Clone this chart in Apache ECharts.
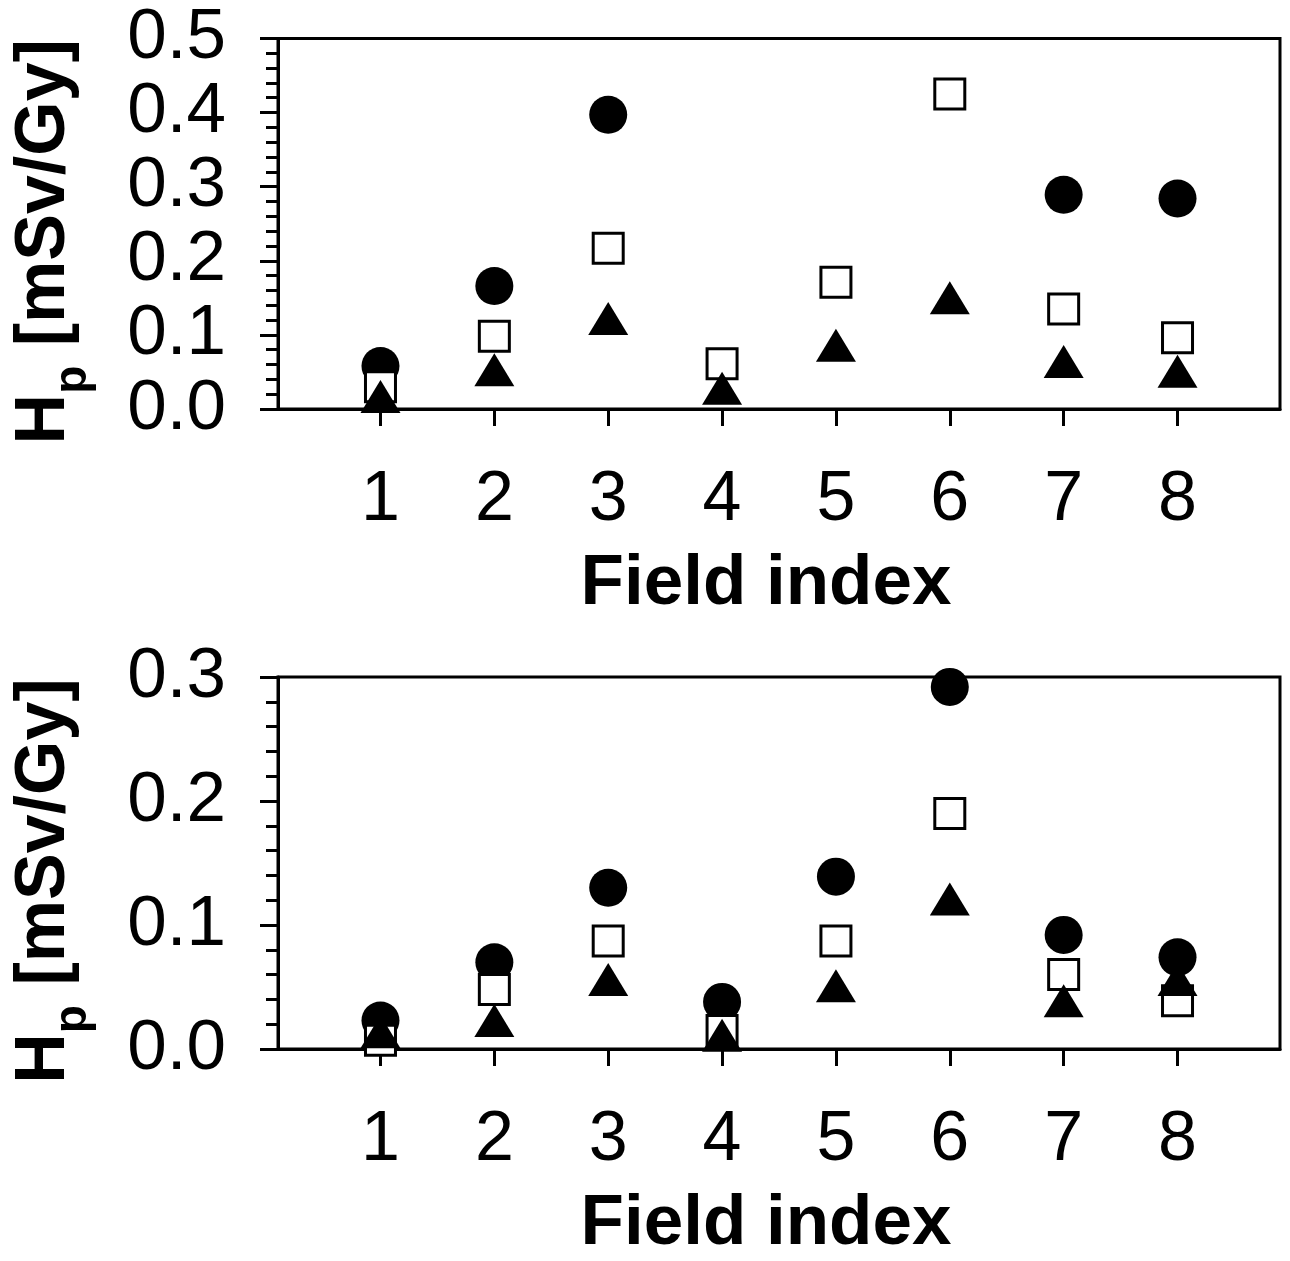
<!DOCTYPE html>
<html>
<head>
<meta charset="utf-8">
<title>Hp vs field index</title>
<script src="https://cdn.jsdelivr.net/npm/echarts@6/dist/echarts.min.js"></script>
<style>
  html, body { margin: 0; padding: 0; background: #fff; }
  #chart { width: 1290px; height: 1261px; }
</style>
</head>
<body>
<div id="chart"></div>
<script>
// field index (x) for both panels
const fields = [1, 2, 3, 4, 5, 6, 7, 8]

// top panel values [mSv/Gy]
const topCircle = [0.058, 0.166, 0.397, null, null, null, 0.289, 0.284]
const topSquare = [0.030, 0.098, 0.217, 0.061, 0.171, 0.425, 0.135, 0.096]
const topTriangle = [0.017, 0.053, 0.122, 0.028, 0.086, 0.150, 0.064, 0.051]

// bottom panel values [mSv/Gy]
const botCircle = [0.023, 0.070, 0.130, 0.038, 0.139, 0.292, 0.092, 0.074]
const botSquare = [0.007, 0.048, 0.087, 0.015, 0.087, 0.190, 0.060, 0.039]
const botTriangle = [0.014, 0.023, 0.056, 0.011, 0.051, 0.121, 0.039, 0.056]

const topMax = 0.5
const botMax = 0.3

const FONT = 'Liberation Sans, Arial, sans-serif'

function pairs(ys) {
  return fields.map((x, i) => [x, ys[i]]).filter(p => p[1] !== null)
}

function xAxisFor(gridIndex) {
  return {
    gridIndex,
    type: 'value',
    min: 0.1,
    max: 8.9,
    name: 'Field index',
    nameLocation: 'middle',
    nameGap: 140,
    nameTextStyle: { fontFamily: FONT, fontSize: 71, fontWeight: 'bold', color: '#000', padding: [0, 26, 0, 0] },
    axisLine: { show: true, lineStyle: { color: '#000', width: 3 } },
    axisTick: { show: true, customValues: fields, length: 17, lineStyle: { color: '#000', width: 3 } },
    axisLabel: { customValues: fields, margin: 57, fontFamily: FONT, fontSize: 70, color: '#000' },
    splitLine: { show: false }
  }
}

function yAxisFor(gridIndex, max) {
  return {
    gridIndex,
    type: 'value',
    min: 0,
    max: max,
    interval: 0.1,
    // Hp with subscript p, trailing pad pushes the text a bit toward the H end
    name: '{b|H}{s|p}{b| [mSv/Gy]}{e|}',
    nameLocation: 'middle',
    nameGap: 198,
    nameTextStyle: {
      rich: {
        b: { fontFamily: FONT, fontSize: 70, fontWeight: 'bold', color: '#000', lineHeight: 70, verticalAlign: 'top' },
        s: { fontFamily: FONT, fontSize: 46, fontWeight: 'bold', color: '#000', lineHeight: 46, verticalAlign: 'top', padding: [40, 0, 0, 0] },
        e: { width: 36, lineHeight: 70 }
      }
    },
    axisLine: { show: true, lineStyle: { color: '#000', width: 3 } },
    axisTick: { show: true, length: 18, lineStyle: { color: '#000', width: 3 } },
    minorTick: { show: true, splitNumber: 5, length: 12, lineStyle: { color: '#000', width: 3 } },
    axisLabel: {
      margin: 52,
      fontFamily: FONT,
      fontSize: 71,
      color: '#000',
      formatter: v => v.toFixed(1)
    },
    splitLine: { show: false },
    minorSplitLine: { show: false }
  }
}

function scatter(idx, data, kind) {
  const base = { type: 'scatter', xAxisIndex: idx, yAxisIndex: idx, data: pairs(data), silent: true }
  if (kind === 'circle') {
    return Object.assign(base, { symbol: 'circle', symbolSize: 38, itemStyle: { color: '#000', opacity: 1 } })
  }
  if (kind === 'square') {
    return Object.assign(base, { symbol: 'rect', symbolSize: 30, itemStyle: { color: '#fff', borderColor: '#000', borderWidth: 3, opacity: 1 } })
  }
  return Object.assign(base, { symbol: 'triangle', symbolSize: [40, 33], itemStyle: { color: '#000', opacity: 1 } })
}

const chart = echarts.init(document.getElementById('chart'), null, { renderer: 'canvas' })
chart.setOption({
  animation: false,
  backgroundColor: '#fff',
  grid: [
    { left: 278, right: 10, top: 35, height: 374, show: true, borderColor: '#000', borderWidth: 3 },
    { left: 278, right: 10, top: 677, height: 376, show: true, borderColor: '#000', borderWidth: 3 }
  ],
  xAxis: [xAxisFor(0), xAxisFor(1)],
  yAxis: [yAxisFor(0, topMax), yAxisFor(1, botMax)],
  series: [
    scatter(0, topCircle, 'circle'),
    scatter(0, topSquare, 'square'),
    scatter(0, topTriangle, 'triangle'),
    scatter(1, botCircle, 'circle'),
    scatter(1, botSquare, 'square'),
    scatter(1, botTriangle, 'triangle')
  ]
})
</script>
</body>
</html>
